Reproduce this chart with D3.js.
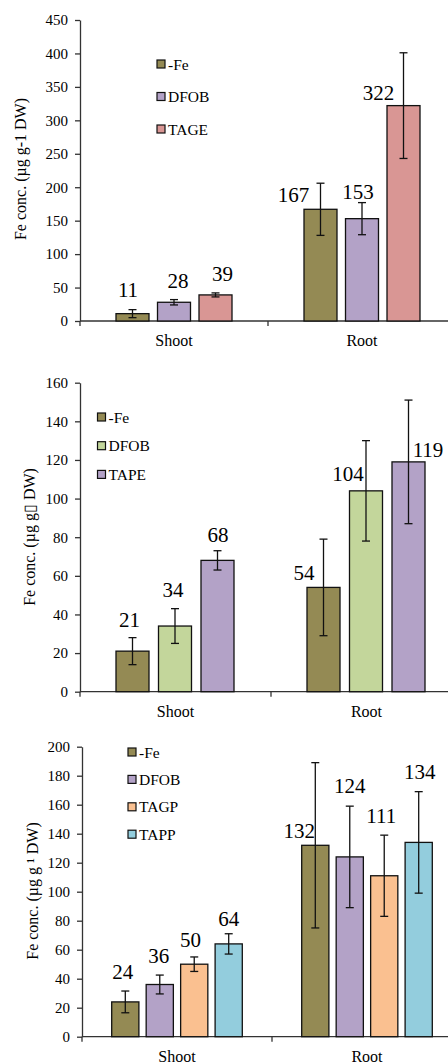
<!DOCTYPE html>
<html>
<head>
<meta charset="utf-8">
<script src="https://cdn.jsdelivr.net/npm/d3@7"></script>
<style>
  body { margin: 0; background: #fff; }
  svg { display: block; }
  svg text { font-family: "Liberation Serif", "Times New Roman", serif; fill: #000; }
</style>
</head>
<body>
<div id="chart"></div>
<script>
// categories shared by the three panels
var parts = ["Shoot", "Root"];

// panel 1
var series1 = ["-Fe", "DFOB", "TAGE"];
var shoot1 = [11, 28, 39];
var root1 = [167, 153, 322];
var shootErr1 = [6, 4, 3];
var rootErr1 = [39, 24, 79];
var ticks1 = [0, 50, 100, 150, 200, 250, 300, 350, 400, 450];

// panel 2
var series2 = ["-Fe", "DFOB", "TAPE"];
var shoot2 = [21, 34, 68];
var root2 = [54, 104, 119];
var shootErr2 = [7, 9, 5];
var rootErr2 = [25, 26, 32];
var ticks2 = [0, 20, 40, 60, 80, 100, 120, 140, 160];

// panel 3
var series3 = ["-Fe", "DFOB", "TAGP", "TAPP"];
var shoot3 = [24, 36, 50, 64];
var root3 = [132, 124, 111, 134];
var shootErr3 = [7.5, 6.5, 5, 7];
var rootErr3 = [57, 35, 28, 35];
var ticks3 = [0, 20, 40, 60, 80, 100, 120, 140, 160, 180, 200];

var colors = {
  "-Fe": "#948a54", "DFOB": "#b3a2c7", "TAGE": "#d99694",
  "TAPE": "#b3a2c7", "TAGP": "#fac090", "TAPP": "#93cddd"
};

var FONT = "Liberation Serif";
var W = 448, H = 1062;
var svg = d3.select("#chart").append("svg").attr("width", W).attr("height", H);

// layout of each panel (pixels)
var panels = [
  { series: series1, vals: [shoot1, root1], errs: [shootErr1, rootErr1], ticks: ticks1,
    colors: series1.map(s => colors[s]),
    x: [80, 456], y: [321, 20], inner: [36, 152], pad: 0.205,
    title: "Fe conc. (µg g-1 DW)", titlePos: [20, 169],
    legend: { x: 157, y: 64, step: 32.5 },
    labelDx: [[-4.5, 4, 7], [-27, -4, -25]],
    labelDy: [[-17, -14, -14], [-7, -20, -6]] },
  { series: series2, vals: [shoot2, root2], errs: [shootErr2, rootErr2], ticks: ticks2,
    colors: ["#948a54", "#c3d69b", "#b3a2c7"],
    x: [80, 462], y: [691.7, 382.7], inner: [36, 154], pad: 0.2235,
    title: "Fe conc.  (µg g\u25af DW)", titlePos: [29, 537],
    legend: { x: 97.5, y: 417, step: 28.7 },
    labelDx: [[-3, -2, 0.5], [-19.5, -18, 19.5]],
    labelDy: [[-24, -29, -18], [-7, -10, -5]] },
  { series: series3, vals: [shoot3, root3], errs: [shootErr3, rootErr3], ticks: ticks3,
    colors: series3.map(s => colors[s]),
    x: [82, 462], y: [1036.7, 746.7], inner: [29.7, 160.3], pad: 0.211,
    title: "Fe conc. (µg g \u00b9 DW)", titlePos: [32, 891],
    legend: { x: 128, y: 752, step: 27.4 },
    labelDx: [[-2.5, -1, -3.7, 0], [-16, 0, -3, 1]],
    labelDy: [[-23, -22, -17.5, -18], [-7, -64, -53, -63]] }
];

panels.forEach(function(p) {
  var g = svg.append("g").attr("font-family", FONT);

  var x0 = d3.scaleBand().domain(parts).range(p.x).padding(0);
  var x1 = d3.scaleBand().domain(p.series).range(p.inner).paddingInner(p.pad).paddingOuter(0);
  var y = d3.scaleLinear().domain([0, d3.max(p.ticks)]).range(p.y);

  // y axis
  var yAxis = g.append("g")
      .attr("transform", "translate(" + p.x[0] + ",0)")
      .call(d3.axisLeft(y).tickValues(p.ticks).tickSize(5).tickSizeOuter(0).tickPadding(7))
      .attr("font-family", FONT);
  yAxis.select(".domain").attr("stroke", "#333").attr("stroke-width", 1.3);
  yAxis.selectAll(".tick line").attr("stroke", "#333").attr("stroke-width", 1.3);
  yAxis.selectAll(".tick text")
      .attr("font-family", FONT).attr("font-size", 15).attr("fill", "#000");

  // x axis: baseline plus tick marks at the category borders
  var base = y(0);
  g.append("line")
      .attr("x1", p.x[0]).attr("x2", W)
      .attr("y1", base).attr("y2", base)
      .attr("stroke", "#333").attr("stroke-width", 1.3);
  g.selectAll(".xtick")
      .data(parts)
    .enter().append("line")
      .attr("x1", d => x0(d)).attr("x2", d => x0(d))
      .attr("y1", base).attr("y2", base + 5)
      .attr("stroke", "#333").attr("stroke-width", 1.3);
  g.selectAll(".xlabel")
      .data(parts)
    .enter().append("text")
      .attr("x", d => x0(d) + x0.bandwidth() / 2)
      .attr("y", base + 25)
      .attr("text-anchor", "middle")
      .attr("font-family", FONT)
      .attr("font-size", 16)
      .text(d => d);

  // bars, error bars and value labels
  parts.forEach(function(part, pi) {
    var rows = p.series.map(function(s, si) {
      return { s: s, i: si, v: p.vals[pi][si], e: p.errs[pi][si] };
    });
    var grp = g.append("g").attr("transform", "translate(" + x0(part) + ",0)");

    grp.selectAll("rect")
        .data(rows)
      .enter().append("rect")
        .attr("x", d => x1(d.s))
        .attr("y", d => y(d.v))
        .attr("width", x1.bandwidth())
        .attr("height", d => base - y(d.v))
        .attr("fill", d => p.colors[d.i])
        .attr("stroke", "#111")
        .attr("stroke-width", 1.3);

    var err = grp.selectAll(".err")
        .data(rows)
      .enter().append("g")
        .attr("stroke", "#111").attr("stroke-width", 1.3);
    err.append("line")
        .attr("x1", d => x1(d.s) + x1.bandwidth() / 2)
        .attr("x2", d => x1(d.s) + x1.bandwidth() / 2)
        .attr("y1", d => y(d.v + d.e)).attr("y2", d => y(d.v - d.e));
    [1, -1].forEach(function(sign) {
      err.append("line")
          .attr("x1", d => x1(d.s) + x1.bandwidth() / 2 - 4)
          .attr("x2", d => x1(d.s) + x1.bandwidth() / 2 + 4)
          .attr("y1", d => y(d.v + sign * d.e)).attr("y2", d => y(d.v + sign * d.e));
    });

    grp.selectAll(".val")
        .data(rows)
      .enter().append("text")
        .attr("x", d => x1(d.s) + x1.bandwidth() / 2 + p.labelDx[pi][d.i])
        .attr("y", d => y(d.v) + p.labelDy[pi][d.i])
        .attr("text-anchor", "middle")
        .attr("font-family", FONT)
        .attr("font-size", 21)
        .text(d => d.v);
  });

  // legend
  var leg = g.selectAll(".leg")
      .data(p.series)
    .enter().append("g")
      .attr("transform", (d, i) => "translate(" + p.legend.x + "," + (p.legend.y + i * p.legend.step) + ")");
  leg.append("rect")
      .attr("x", 0).attr("y", -4)
      .attr("width", 8).attr("height", 8)
      .attr("fill", (d, i) => p.colors[i])
      .attr("stroke", "#111").attr("stroke-width", 1.2);
  leg.append("text")
      .attr("x", 11).attr("y", 5.5)
      .attr("font-family", FONT)
      .attr("font-size", 15.5)
      .text(d => d);

  // y axis title
  g.append("text")
      .attr("transform", "translate(" + p.titlePos[0] + "," + p.titlePos[1] + ") rotate(-90)")
      .attr("text-anchor", "middle")
      .attr("dy", "0.35em")
      .attr("font-family", FONT)
      .attr("font-size", 16)
      .text(p.title);
});
</script>
</body>
</html>
